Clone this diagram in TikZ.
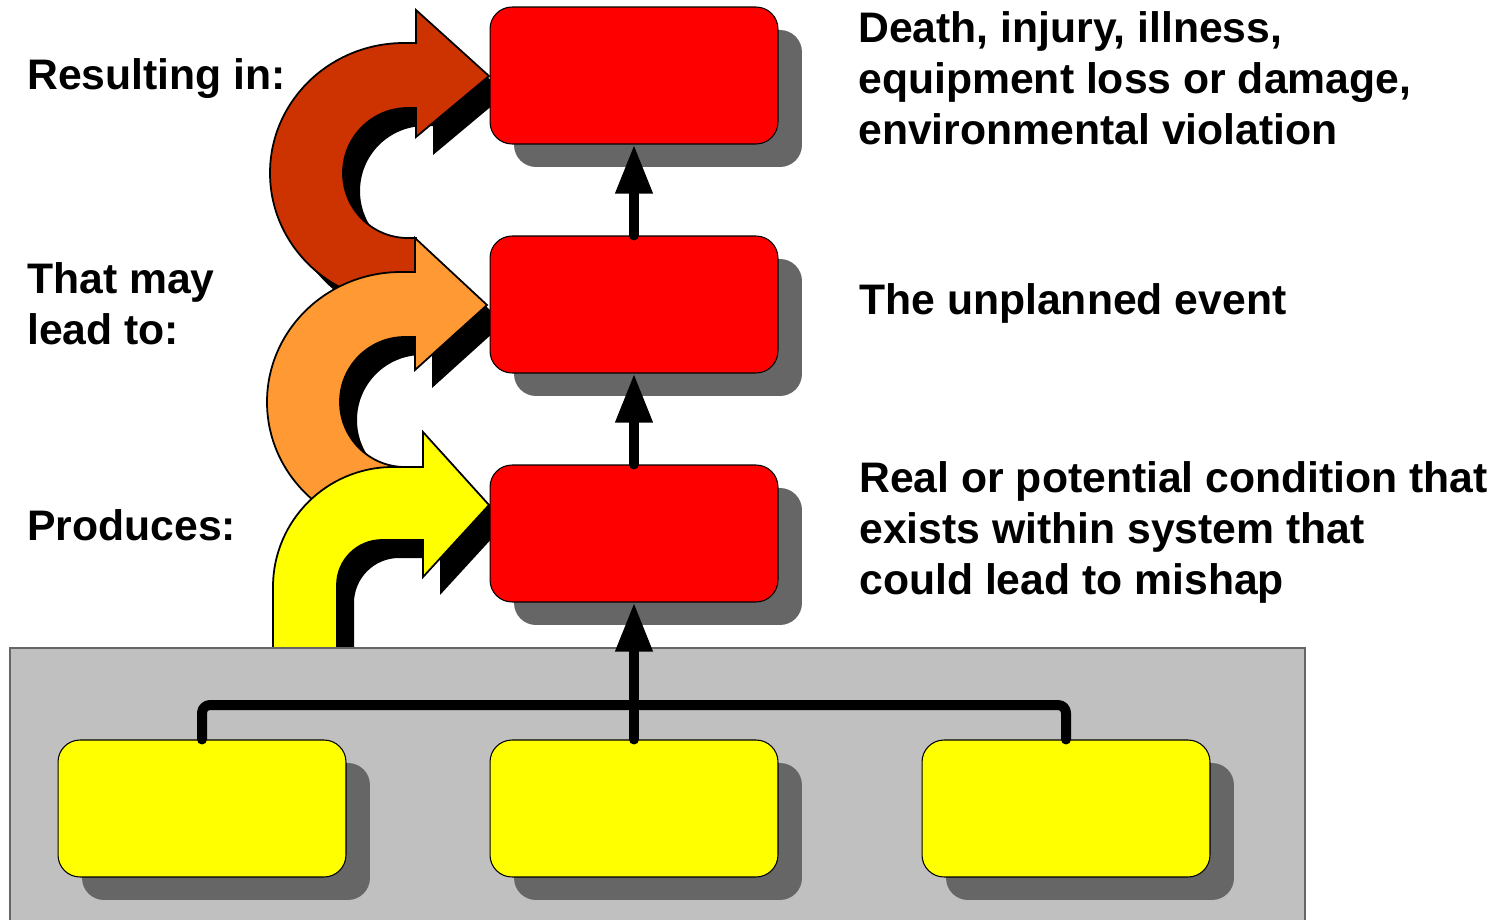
\documentclass[tikz,border=0pt]{standalone}
\usepackage{fontspec}
\setmainfont{Liberation Sans}
\usetikzlibrary{arrows.meta,shadows}
\definecolor{brownA}{HTML}{CC3300}
\definecolor{orangeA}{HTML}{FF9933}
\definecolor{yellowA}{HTML}{FFFF00}
\definecolor{redA}{HTML}{FF0000}
\definecolor{shadowgray}{HTML}{666666}
\definecolor{panelgray}{HTML}{C0C0C0}
\newcommand\brownarrow[1]{\path[#1] (489,76) -- (416,10) -- (416,43) -- (404,43)
  arc[start angle=270,end angle=90,x radius=134,y radius=130] -- (416,303) -- (416,238) -- (408,238)
  arc[start angle=90,end angle=270,radius=65] -- (416,108) -- (416,137) -- cycle;}
\newcommand\orangearrow[1]{\path[#1] (487,305) -- (415,238) -- (415,272) -- (401,272)
  arc[start angle=270,end angle=90,x radius=134,y radius=130] -- (415,532) -- (415,467) -- (405,467)
  arc[start angle=90,end angle=270,radius=65] -- (415,337) -- (415,370) -- cycle;}
\newcommand\yellowarrow[1]{\path[#1] (489,505) -- (423,432) -- (423,467) -- (393,467)
  arc[start angle=270,end angle=180,radius=120] -- (273,648) -- (337,648) -- (337,585)
  arc[start angle=180,end angle=270,radius=45] -- (423,540) -- (423,577) -- cycle;}
\begin{document}
\begin{tikzpicture}[x=0.02cm,y=-0.02cm,
  box/.style={draw=black, line width=0.6pt, rounded corners=0.44cm,
    minimum width=5.76cm, minimum height=2.74cm, inner sep=0pt,
    drop shadow={shadow xshift=0.48cm, shadow yshift=-0.46cm, fill=shadowgray, opacity=1}},
  redbox/.style={box, fill=redA},
  yelbox/.style={box, fill=yellowA},
  conn/.style={line width=0.2cm, line cap=round, line join=round},
  tip/.style={-{Triangle[length=0.98cm,width=0.7cm]}},
  lbl/.style={font=\fontsize{24.3pt}{28.9pt}\selectfont\bfseries, inner sep=0pt, align=left, anchor=base west},
  ashadow/.style={fill=black, shift={(17,18)}},
  aline/.style={draw=black, line width=1pt, line join=miter}
]
\useasboundingbox (0,0) rectangle (1500,919);
% curved arrows
\brownarrow{ashadow}
\brownarrow{aline, fill=brownA}
\orangearrow{ashadow}
\orangearrow{aline, fill=orangeA}
\yellowarrow{ashadow}
\yellowarrow{aline, fill=yellowA}
% panel
\path[fill=panelgray, draw=shadowgray, line width=1pt] (10,648) rectangle (1305,940);
% boxes
\node[redbox] (r3) at (634,75.5) {};
\node[redbox] (r2) at (634,304.5) {};
\node[redbox] (r1) at (634,533.5) {};
\node[yelbox] (y1) at (202,808.5) {};
\node[yelbox] (y2) at (634,808.5) {};
\node[yelbox] (y3) at (1066,808.5) {};
% connectors
\coordinate (bus) at (634,705);
\draw[conn, rounded corners=0.16cm] (y1.north) -- (y1.north |- bus) -- (y3.north |- bus) -- (y3.north);
\draw[conn, tip] (y2.north) -- (r1.south);
\draw[conn, tip] (r1.north) -- (r2.south);
\draw[conn, tip] (r2.north) -- (r3.south);
% texts (base anchor = baseline of last line)
\node[lbl] (l1) at (27,90) {Resulting in:};
\node[lbl] (l2) at (27,344) {That may\\lead to:};
\node[lbl] (l3) at (27,540) {Produces:};
\node[lbl] (d1) at (858,144) {Death, injury, illness,\\equipment loss or damage,\\environmental violation};
\node[lbl] (d2) at (859,314) {The unplanned event};
\node[lbl] (d3) at (859,594) {Real or potential condition that\\exists within system that\\could lead to mishap};
\end{tikzpicture}
\end{document}
